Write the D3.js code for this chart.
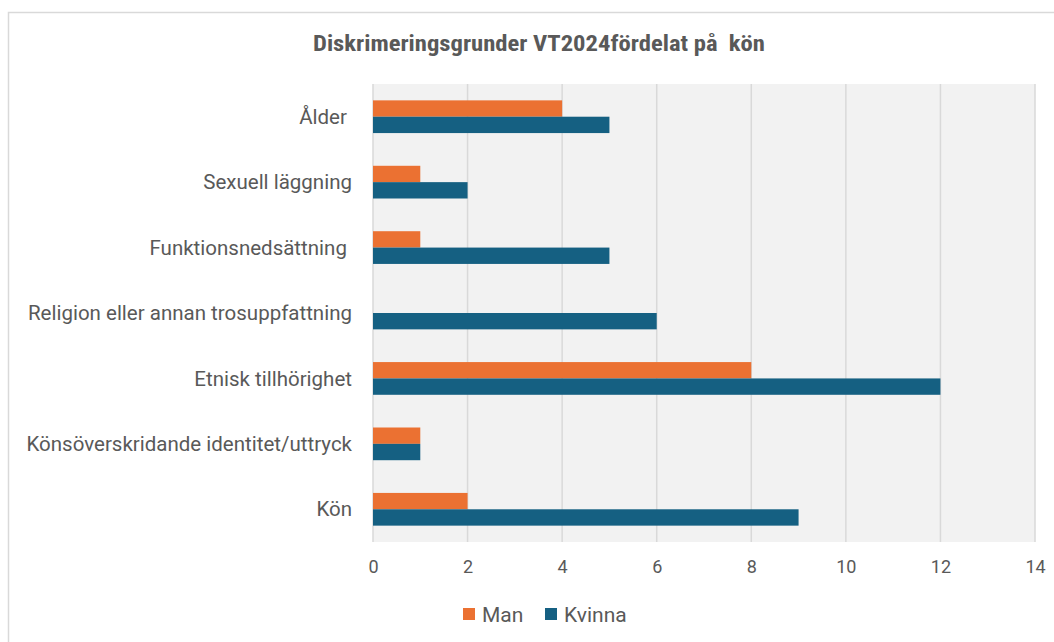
<!DOCTYPE html>
<html>
<head>
<meta charset="utf-8">
<script src="https://cdn.jsdelivr.net/npm/d3@7"></script>
<style>
  body { margin: 0; background: #fff; }
  text { fill: #595959; }
</style>
</head>
<body>
<script>
const categories = ['Ålder ', 'Sexuell läggning', 'Funktionsnedsättning ', 'Religion eller annan trosuppfattning',
  'Etnisk tillhörighet', 'Könsöverskridande identitet/uttryck', 'Kön'];
const manValues = [4, 1, 1, 0, 8, 1, 2];
const kvinnaValues = [5, 2, 5, 6, 12, 1, 9];
const series = ['Man', 'Kvinna'];
const xTicks = [0, 2, 4, 6, 8, 10, 12, 14];
const colors = { Man: '#eb7132', Kvinna: '#156082' };

const width = 1054, height = 642;
const plot = { left: 373, right: 1035, top: 84, bottom: 542 };
const narrow = '"Liberation Sans Narrow", "Roboto Condensed", "Arial Narrow", sans-serif';

const svg = d3.select('body').append('svg')
  .attr('width', width)
  .attr('height', height);

// outer chart border
svg.append('rect')
  .attr('x', 8.5).attr('y', 12.5)
  .attr('width', 1200).attr('height', 800)
  .attr('fill', '#fff')
  .attr('stroke', '#d9d9d9').attr('stroke-width', 1.5);

const x = d3.scaleLinear().domain([0, 14]).range([plot.left, plot.right]);
const y = d3.scaleBand().domain(categories).range([plot.top, plot.bottom]).paddingInner(0.5).paddingOuter(0.25);
const ySub = d3.scaleBand().domain(series).range([0, y.bandwidth()]);

// plot area
svg.append('rect')
  .attr('x', plot.left).attr('y', plot.top)
  .attr('width', plot.right - plot.left).attr('height', plot.bottom - plot.top)
  .attr('fill', '#f2f2f2');

// gridlines
svg.append('g')
  .selectAll('line')
  .data(xTicks)
  .enter().append('line')
  .attr('x1', d => x(d)).attr('x2', d => x(d))
  .attr('y1', plot.top).attr('y2', plot.bottom)
  .attr('stroke', '#d9d9d9').attr('stroke-width', 1.5);

// title
svg.append('text')
  .attr('x', 539).attr('y', 51)
  .attr('text-anchor', 'middle')
  .attr('textLength', 452)
  .attr('lengthAdjust', 'spacingAndGlyphs')
  .style('font-family', narrow)
  .style('font-weight', 'bold')
  .style('font-size', '22px')
  .style('white-space', 'pre')
  .text('Diskrimeringsgrunder VT2024fördelat på  kön');

// bars
const rows = categories.map((c, i) => ({ cat: c, Man: manValues[i], Kvinna: kvinnaValues[i] }));
const groups = svg.append('g').selectAll('g')
  .data(rows)
  .enter().append('g')
  .attr('transform', d => `translate(0,${y(d.cat)})`);

groups.selectAll('rect')
  .data(d => series.map(s => ({ s, v: d[s] })))
  .enter().append('rect')
  .attr('x', x(0))
  .attr('y', d => ySub(d.s))
  .attr('width', d => x(d.v) - x(0))
  .attr('height', ySub.bandwidth())
  .attr('fill', d => colors[d.s]);

// category labels
svg.append('g')
  .selectAll('text')
  .data(categories)
  .enter().append('text')
  .attr('x', 352)
  .attr('y', d => y(d) + y.bandwidth() / 2)
  .attr('dy', '0.35em')
  .attr('text-anchor', 'end')
  .style('font-family', 'Roboto, sans-serif')
  .style('font-size', '20.5px')
  .style('white-space', 'pre')
  .text(d => d);

// x axis labels
const xAxis = svg.append('g')
  .attr('transform', `translate(0,${plot.bottom})`)
  .call(d3.axisBottom(x).tickValues(xTicks).tickSize(0).tickPadding(18));
xAxis.select('.domain').remove();
xAxis.selectAll('text')
  .style('font-family', 'Roboto, sans-serif')
  .style('font-size', '18px')
  .attr('fill', '#595959');

// legend
const legend = svg.append('g').attr('transform', 'translate(463,608)');
const legendX = [0, 82];
series.forEach((s, i) => {
  const g = legend.append('g').attr('transform', `translate(${legendX[i]},0)`);
  g.append('rect').attr('width', 12).attr('height', 12).attr('fill', colors[s]);
  g.append('text')
    .attr('x', 19).attr('y', 6).attr('dy', '0.36em')
    .style('font-family', 'Roboto, sans-serif')
    .style('font-size', '21px')
    .text(s);
});
</script>
</body>
</html>
